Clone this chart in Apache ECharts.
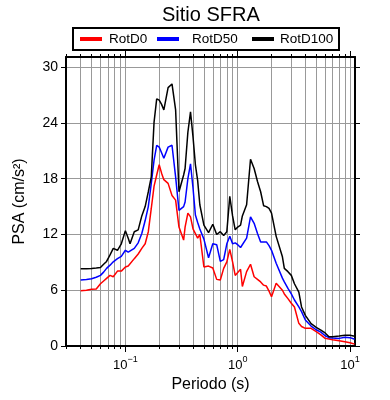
<!DOCTYPE html>
<html><head><meta charset="utf-8">
<script src="https://cdn.jsdelivr.net/npm/echarts@6/dist/echarts.min.js"></script>
<style>html,body{margin:0;padding:0;background:#fff}#c{width:390px;height:400px}</style>
</head><body><div id="c"></div>
<script>
const periods = [0.04,0.045,0.05,0.055,0.06,0.064,0.068,0.073,0.078,0.085,0.092,0.1,0.106,0.11,0.12,0.13,0.14,0.15,0.16,0.17,0.18,0.19,0.2,0.21,0.22,0.24,0.26,0.28,0.30,0.33,0.34,0.36,0.38,0.40,0.42,0.44,0.46,0.50,0.55,0.60,0.65,0.70,0.75,0.80,0.85,0.90,0.95,1.0,1.06,1.1,1.2,1.3,1.4,1.5,1.6,1.7,1.8,1.9,2.0,2.2,2.5,2.6,2.8,3.0,3.2,3.5,3.7,4.0,4.5,5.0,5.5,6.0,6.5,7.0,8.0,9.0,10,11];
const rotD0 = [5.95,6.0,6.1,6.13,6.7,7.0,7.28,7.6,7.45,8.06,8.06,8.5,8.6,8.6,9.4,9.9,10.5,11.0,12.3,14.8,17.2,18.4,19.5,18.6,17.9,17.5,16.2,15.7,12.8,11.4,12.8,14.3,13.9,12.6,12.1,11.6,12.0,8.5,8.6,8.4,7.17,7.1,8.35,9.06,10.4,9.06,7.6,7.9,8.25,6.4,8.0,8.8,7.45,7.17,6.9,6.55,6.45,5.9,5.3,6.74,6.0,5.6,5.1,4.6,4.2,2.44,2.1,1.9,1.9,1.54,1.2,0.82,0.75,0.68,0.57,0.46,0.35,0.2];
const rotD50 = [7.1,7.15,7.24,7.4,7.6,7.95,8.35,8.7,9.06,9.4,9.65,10.3,10.1,9.97,10.5,11.1,12.1,13.5,15.0,17.5,20.0,21.6,21.4,20.8,20.2,21.4,21.6,18.2,14.6,15.0,15.5,18.0,19.6,17.0,14.1,13.3,12.6,11.5,9.5,11.0,10.9,9.1,9.3,11.0,11.8,11.0,11.1,10.9,10.6,10.8,11.6,13.9,13.2,12.1,11.2,11.2,11.2,10.8,10.3,8.9,7.3,6.9,6.2,5.6,4.95,4.2,3.7,2.8,2.15,1.75,1.5,1.1,0.9,0.85,0.82,0.93,0.9,0.72];
const rotD100 = [8.3,8.3,8.35,8.4,8.45,8.8,9.1,9.8,10.5,10.3,11.0,12.4,11.6,11.0,12.3,12.5,14.0,15.0,16.6,18.2,24.1,26.6,26.45,26.0,25.4,27.8,28.2,25.4,16.6,18.4,19.1,23.0,25.2,22.5,19.5,17.8,15.2,13.0,12.2,13.1,12.0,12.3,11.9,12.3,16.1,14.0,12.5,12.8,13.0,14.0,15.2,20.1,19.1,17.7,16.6,15.1,15.0,14.8,14.3,11.8,9.6,8.35,8.0,7.6,6.7,5.8,4.2,3.3,2.4,2.0,1.7,1.4,1.0,1.0,1.07,1.15,1.15,1.05];
const yTicks = [0,6,12,18,24,30];
const xMajor = [0.1,1,10];
const xMinor = [0.03,0.04,0.05,0.06,0.07,0.08,0.09,0.1,0.2,0.3,0.4,0.5,0.6,0.7,0.8,0.9,1,2,3,4,5,6,7,8,9,10];
const seriesNames = ['RotD0','RotD50','RotD100'];
const seriesColors = ['#ff0000','#0000ff','#000000'];

const FONT = 'Liberation Sans, Arial, Helvetica, sans-serif';
const chart = echarts.init(document.getElementById('c'), null, {renderer:'canvas'});
const xBase = {type:'log', logBase:10, min:0.0296, max:11.07, gridIndex:0};
const supMap = v => { const e = Math.round(Math.log10(v)); return '{b|10}{s|' + (e < 0 ? '\u2212' + (-e) : e) + '}'; };
const vals = [rotD0, rotD50, rotD100];
const option = {
  animation:false,
  backgroundColor:'#fff',
  textStyle:{fontFamily:FONT},
  title:{text:'Sitio SFRA', left:162, top:5, padding:0, textStyle:{fontFamily:FONT, fontSize:20, fontWeight:'normal', color:'#000'}},
  legend: seriesNames.map((n,i)=>({
    data:[n], left:[80,157,252][i], top:32, padding:0, icon:'rect', itemWidth:22, itemHeight:4,
    selectedMode:false,
    textStyle:{fontFamily:FONT, fontSize:13.5, color:'#000', padding:[0,0,0,[2,8,1][i]]}
  })),
  graphic:[{type:'rect', shape:{x:73, y:28, width:266, height:22}, style:{fill:'none', stroke:'#000', lineWidth:2}, z:10}],
  grid:{left:66, right:35, top:57, bottom:54, containLabel:false},
  xAxis:[
    Object.assign({}, xBase, {position:'bottom', axisLine:{show:true, lineStyle:{color:'#000', width:2}},
      axisTick:{show:true, length:6, customValues:xMajor, lineStyle:{color:'#000'}},
      axisLabel:{show:true, customValues:xMajor, formatter:supMap, margin:9, rich:{b:{fontSize:13, color:'#000', fontFamily:FONT, lineHeight:20}, s:{fontSize:9, color:'#000', fontFamily:FONT, verticalAlign:'top', lineHeight:10}}},
      splitLine:{show:false}, minorTick:{show:false}, minorSplitLine:{show:false},
      name:'Periodo (s)', nameLocation:'middle', nameGap:28, nameTextStyle:{fontSize:16, color:'#000', fontFamily:FONT}}),
    Object.assign({}, xBase, {position:'bottom', axisLine:{show:false},
      axisTick:{show:true, length:3, customValues:xMinor, lineStyle:{color:'#000'}},
      axisLabel:{show:false}, splitLine:{show:true, lineStyle:{color:'#999', width:1}}}),
    Object.assign({}, xBase, {position:'top', axisLine:{show:true, lineStyle:{color:'#000', width:2}},
      axisTick:{show:true, length:6, customValues:xMajor, lineStyle:{color:'#000'}},
      axisLabel:{show:false}, splitLine:{show:false}}),
    Object.assign({}, xBase, {position:'top', axisLine:{show:false},
      axisTick:{show:true, length:3, customValues:xMinor, lineStyle:{color:'#000'}},
      axisLabel:{show:false}, splitLine:{show:false}})
  ],
  yAxis:[
    {type:'value', min:0, max:31.1, interval:6, position:'left',
      axisLine:{show:true, lineStyle:{color:'#000', width:2}},
      axisTick:{show:true, length:5, customValues:yTicks, lineStyle:{color:'#000'}},
      axisLabel:{customValues:yTicks, fontSize:14, color:'#000', fontFamily:FONT, margin:8},
      splitLine:{show:true, lineStyle:{color:'#999', width:1}},
      name:'PSA (cm/s\u00b2)', nameLocation:'middle', nameGap:38, nameTextStyle:{fontSize:16, color:'#000', fontFamily:FONT}},
    {type:'value', min:0, max:31.1, interval:6, position:'right',
      axisLine:{show:true, lineStyle:{color:'#000', width:2}},
      axisTick:{show:true, length:5, customValues:yTicks, lineStyle:{color:'#000'}},
      axisLabel:{show:false}, splitLine:{show:false}}
  ],
  series: seriesNames.map((n,i)=>({
    name:n, type:'line', xAxisIndex:0, yAxisIndex:0, showSymbol:false, symbol:'none', clip:true,
    color:seriesColors[i], lineStyle:{color:seriesColors[i], width:1.5}, z:3+i,
    data: periods.map((p,k)=>[p, vals[i][k]])
  }))
};
chart.setOption(option);
</script></body></html>
